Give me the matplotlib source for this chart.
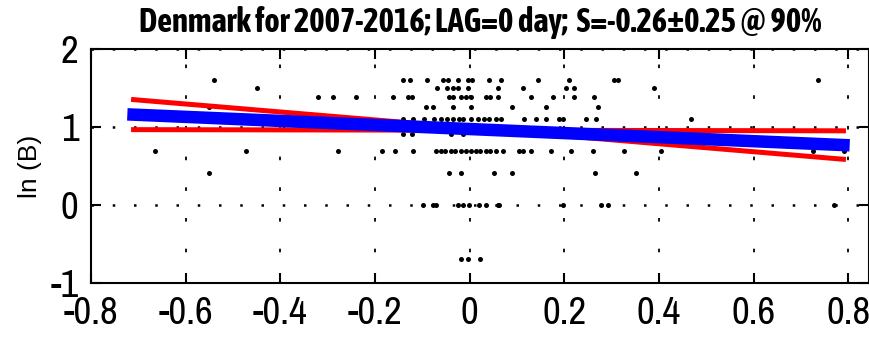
import matplotlib.pyplot as plt
import numpy as np

# scatter data: x positions grouped by value of B (plotted as ln(B))
x_b5 = [-0.54, -0.14, -0.125, -0.089, -0.057, -0.046, -0.025, -0.004, 0.006, 0.040,
        0.066, 0.144, 0.210, 0.305, 0.313, 0.737]
x_b45 = [-0.449, -0.068, -0.047, -0.036, -0.025, -0.004, 0.061, 0.112, 0.203, 0.220, 0.389]
x_b4 = [-0.320, -0.288, -0.241, -0.161, -0.131, -0.121, -0.044, -0.034, -0.019, -0.008,
        0.002, 0.034, 0.044, 0.059, 0.129, 0.176, 0.220, 0.262]
x_b35 = [-0.550, -0.093, -0.078, -0.034, 0.002, 0.089, 0.161, 0.271]
x_b3 = [-0.140, -0.119, -0.097, -0.076, -0.061, -0.047, -0.034, -0.023, -0.013, 0.002,
        0.017, 0.030, 0.040, 0.055, 0.066, 0.114, 0.140, 0.161, 0.188, 0.197, 0.246,
        0.267, 0.468]
x_b25 = [-0.140, -0.121, -0.040, -0.013]
x_b2 = [-0.665, -0.472, -0.277, -0.186, -0.157, -0.119, -0.072, -0.061, -0.051, -0.040,
        -0.030, -0.019, -0.008, 0.002, 0.013, 0.023, 0.034, 0.044, 0.055, 0.070, 0.104,
        0.112, 0.129, 0.171, 0.214, 0.260, 0.326, 0.404, 0.726, 0.792]
x_b15 = [-0.550, -0.044, -0.019, 0.051, 0.089, 0.265, 0.351]
x_b1 = [-0.099, -0.078, -0.072, -0.025, -0.013, -0.002, 0.019, 0.034, 0.059, 0.063,
        0.197, 0.277, 0.292, 0.770]
x_b05 = [-0.019, -0.004, 0.023]

groups = [(5.0, x_b5), (4.5, x_b45), (4.0, x_b4), (3.5, x_b35), (3.0, x_b3),
          (2.5, x_b25), (2.0, x_b2), (1.5, x_b15), (1.0, x_b1), (0.5, x_b05)]

# regression: slope S +- dS about the mean point
S = -0.26
dS = 0.25
x_mean = 0.06
y_mean = 0.96
x_fit = np.array([-0.71, 0.79])

xticks = [-0.8, -0.6, -0.4, -0.2, 0, 0.2, 0.4, 0.6, 0.8]
xlabels = ['-0.8', '-0.6', '-0.4', '-0.2', '0', '0.2', '0.4', '0.6', '0.8']
yticks = [-1, 0, 1, 2]

narrow = ['Liberation Sans Narrow', 'Archivo Narrow', 'Liberation Sans', 'DejaVu Sans']
narrow_bold = ['Liberation Sans Narrow', 'Asap Condensed', 'Liberation Sans', 'DejaVu Sans']
plt.rcParams['font.family'] = narrow
plt.rcParams['axes.unicode_minus'] = False

fig = plt.figure(figsize=(8.69, 3.39), dpi=100)
ax = fig.add_axes([0.1047, 0.165, 0.8953, 0.69])

xs, ys = [], []
for b, xv in groups:
    xs += xv
    ys += [np.log(b)] * len(xv)
ax.plot(xs, ys, 'o', color='black', markersize=3.6, markeredgewidth=0, zorder=2)

ax.plot(x_fit, y_mean + (S - dS) * (x_fit - x_mean), color='red', lw=3.6, zorder=3)
ax.plot(x_fit, y_mean + (S + dS) * (x_fit - x_mean), color='red', lw=3.6, zorder=3)
ax.plot(x_fit, y_mean + S * (x_fit - x_mean), color='blue', lw=9, zorder=4)

ax.set_xlim(-0.8, 0.844)
ax.set_ylim(-1, 2)
ax.set_xticks(xticks)
ax.set_xticklabels(xlabels)
ax.set_yticks(yticks)

ax.grid(axis='x', color='black', linestyle=(0, (2, 15)), linewidth=1.3)
ax.grid(axis='y', color='black', linestyle=(0, (1, 7.5)), linewidth=1.8)
ax.set_axisbelow(True)

ax.tick_params(direction='in', length=7, width=1.5, top=True, right=True,
               labelsize=28, pad=9)
for sp in ax.spines.values():
    sp.set_linewidth(1.5)

ax.set_ylabel('ln (B)', fontsize=19, family=['Liberation Sans', 'DejaVu Sans'], labelpad=6)
ax.set_title('Denmark for 2007-2016; LAG=0 day;  S=-0.26±0.25 @ 90%',
             fontsize=23.5, fontweight='bold', family=narrow_bold, pad=12)

fig.savefig('out.png', dpi=100)
